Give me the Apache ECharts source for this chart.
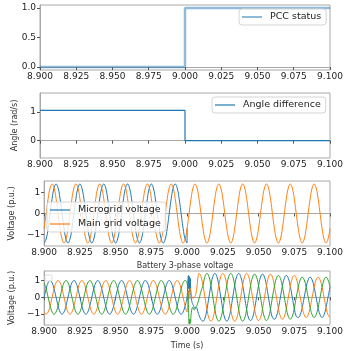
<!DOCTYPE html>
<html>
<head>
<meta charset="utf-8">
<script src="https://cdn.jsdelivr.net/npm/echarts@6/dist/echarts.min.js"></script>
<style>
  html, body { margin: 0; padding: 0; background: #fff; }
  #chart { width: 354px; height: 351px; }
</style>
</head>
<body>
<div id="chart"></div>
<script>
// step signals (top two panels)
var stepTime = [8.9, 9.0, 9.0, 9.1];
var pccStatus = [0, 0, 1, 1];
var angleDifference = [1.047, 1.047, 0, 0];

// waveforms are read every 1/720 s (30 deg of a 60 Hz cycle) starting at 8.9 s
var sampleStart = 8.9;
var sampleStep = 1 / 720;

var microgridVoltage = [
  -1.41, -1.22, -0.71, 0, 0.71, 1.22, 1.41, 1.22, 0.71, 0, -0.71, -1.22,
  -1.41, -1.22, -0.71, 0, 0.71, 1.22, 1.41, 1.22, 0.71, 0, -0.71, -1.22,
  -1.41, -1.22, -0.71, 0, 0.71, 1.22, 1.41, 1.22, 0.71, 0, -0.71, -1.22,
  -1.41, -1.22, -0.71, 0, 0.71, 1.22, 1.41, 1.22, 0.71, 0, -0.71, -1.22,
  -1.41, -1.22, -0.71, 0, 0.71, 1.22, 1.41, 1.22, 0.71, 0, -0.71, -1.22,
  -1.41, -1.22, -0.71, 0, 0.71, 1.22, 1.41, 1.22, 0.71, 0, -0.71, -1.22,
  -1.41
];
var microgridTail = [[9.0, -0.71]];

var mainGridVoltage = [
  -0.71, 0, 0.71, 1.22, 1.41, 1.22, 0.71, 0, -0.71, -1.22, -1.41, -1.22,
  -0.71, 0, 0.71, 1.22, 1.41, 1.22, 0.71, 0, -0.71, -1.22, -1.41, -1.22,
  -0.71, 0, 0.71, 1.22, 1.41, 1.22, 0.71, 0, -0.71, -1.22, -1.41, -1.22,
  -0.71, 0, 0.71, 1.22, 1.41, 1.22, 0.71, 0, -0.71, -1.22, -1.41, -1.22,
  -0.71, 0, 0.71, 1.22, 1.41, 1.22, 0.71, 0, -0.71, -1.22, -1.41, -1.22,
  -0.71, 0, 0.71, 1.22, 1.41, 1.22, 0.71, 0, -0.71, -1.22, -1.41, -1.22,
  -0.71, 0, 0.71, 1.22, 1.41, 1.22, 0.71, 0, -0.71, -1.22, -1.41, -1.22,
  -0.71, 0, 0.71, 1.22, 1.41, 1.22, 0.71, 0, -0.71, -1.22, -1.41, -1.22,
  -0.71, 0, 0.71, 1.22, 1.41, 1.22, 0.71, 0, -0.71, -1.22, -1.41, -1.22,
  -0.71, 0, 0.71, 1.22, 1.41, 1.22, 0.71, 0, -0.71, -1.22, -1.41, -1.22,
  -0.71, 0, 0.71, 1.22, 1.41, 1.22, 0.71, 0, -0.71, -1.22, -1.41, -1.22,
  -0.71, 0, 0.71, 1.22, 1.41, 1.22, 0.71, 0, -0.71, -1.22, -1.41, -1.22,
  -0.71
];

// battery 3-phase voltage, before the switch (8.900 .. 9.000)
var phaseAPre = [
  0, 0.5, 0.87, 1, 0.87, 0.5, 0, -0.5, -0.87, -1, -0.87, -0.5,
  0, 0.5, 0.87, 1, 0.87, 0.5, 0, -0.5, -0.87, -1, -0.87, -0.5,
  0, 0.5, 0.87, 1, 0.87, 0.5, 0, -0.5, -0.87, -1, -0.87, -0.5,
  0, 0.5, 0.87, 1, 0.87, 0.5, 0, -0.5, -0.87, -1, -0.87, -0.5,
  0, 0.5, 0.87, 1, 0.87, 0.5, 0, -0.5, -0.87, -1, -0.87, -0.5,
  0, 0.5, 0.87, 1, 0.87, 0.5, 0, -0.5, -0.87, -1, -0.87, -0.5,
  0
];
var phaseBPre = [
  -0.87, -1, -0.87, -0.5, 0, 0.5, 0.87, 1, 0.87, 0.5, 0, -0.5,
  -0.87, -1, -0.87, -0.5, 0, 0.5, 0.87, 1, 0.87, 0.5, 0, -0.5,
  -0.87, -1, -0.87, -0.5, 0, 0.5, 0.87, 1, 0.87, 0.5, 0, -0.5,
  -0.87, -1, -0.87, -0.5, 0, 0.5, 0.87, 1, 0.87, 0.5, 0, -0.5,
  -0.87, -1, -0.87, -0.5, 0, 0.5, 0.87, 1, 0.87, 0.5, 0, -0.5,
  -0.87, -1, -0.87, -0.5, 0, 0.5, 0.87, 1, 0.87, 0.5, 0, -0.5,
  -0.87
];
var phaseCPre = [
  0.87, 0.5, 0, -0.5, -0.87, -1, -0.87, -0.5, 0, 0.5, 0.87, 1,
  0.87, 0.5, 0, -0.5, -0.87, -1, -0.87, -0.5, 0, 0.5, 0.87, 1,
  0.87, 0.5, 0, -0.5, -0.87, -1, -0.87, -0.5, 0, 0.5, 0.87, 1,
  0.87, 0.5, 0, -0.5, -0.87, -1, -0.87, -0.5, 0, 0.5, 0.87, 1,
  0.87, 0.5, 0, -0.5, -0.87, -1, -0.87, -0.5, 0, 0.5, 0.87, 1,
  0.87, 0.5, 0, -0.5, -0.87, -1, -0.87, -0.5, 0, 0.5, 0.87, 1,
  0.87
];

// switching transient (9.000 .. 9.011)
var phaseATransient = [
  [9.0005, 0.9], [9.0009, 1.3], [9.0012, 0.5], [9.0015, 1.25], [9.0018, 0.35],
  [9.0022, 1.15], [9.0027, 0.1], [9.0035, -0.3], [9.0045, -0.5], [9.0055, -0.65],
  [9.0065, -0.6], [9.0075, -0.85], [9.009, -1.2], [9.0102, -1.38]
];
var phaseBTransient = [
  [9.0005, -0.4], [9.001, 0.4], [9.0013, -0.1], [9.0017, 0.3], [9.0022, 0.55],
  [9.003, 0.15], [9.004, -0.05], [9.005, 0.0], [9.006, 0.15], [9.007, 0.7],
  [9.0077, 1.25], [9.0083, 1.42], [9.0097, 1.24]
];
var phaseCTransient = [
  [9.0005, 0.4], [9.001, -0.6], [9.0015, -1.6], [9.0019, -1.3], [9.0023, -1.55],
  [9.003, -0.9], [9.004, -0.6], [9.005, -0.75], [9.006, -0.6], [9.007, -0.45],
  [9.0083, -0.1], [9.0097, 0.35]
];

// after the switch (9.0111 .. 9.100), sample index 80 onwards
var phaseAPost = [
  -1.42, -1.24, -0.71, 0, 0.71, 1.24, 1.42, 1.24, 0.71, 0, -0.71, -1.24,
  -1.42, -1.24, -0.71, 0, 0.71, 1.24, 1.42, 1.24, 0.71, 0, -0.71, -1.24,
  -1.38, -1.2, -0.69, 0, 0.69, 1.2, 1.38, 1.2, 0.69, 0, -0.69, -1.2,
  -1.3, -1.13, -0.65, 0, 0.65, 1.13, 1.3, 1.13, 0.65, 0, -0.65, -1.13,
  -1.2, -1.04, -0.6, 0, 0.6, 1.04, 1.2, 1.04, 0.6, 0, -0.6, -1.04,
  -1.2, -1.04, -0.6, 0, 0.6
];
var phaseBPost = [
  0.71, 0, -0.71, -1.24, -1.42, -1.24, -0.71, 0, 0.71, 1.24, 1.42, 1.24,
  0.71, 0, -0.71, -1.24, -1.42, -1.24, -0.71, 0, 0.71, 1.24, 1.42, 1.24,
  0.69, 0, -0.69, -1.2, -1.38, -1.2, -0.69, 0, 0.69, 1.2, 1.38, 1.2,
  0.65, 0, -0.65, -1.13, -1.3, -1.13, -0.65, 0, 0.65, 1.13, 1.3, 1.13,
  0.6, 0, -0.6, -1.04, -1.2, -1.04, -0.6, 0, 0.6, 1.04, 1.2, 1.04,
  0.6, 0, -0.6, -1.04, -1.2
];
var phaseCPost = [
  0.71, 1.24, 1.42, 1.24, 0.71, 0, -0.71, -1.24, -1.42, -1.24, -0.71, 0,
  0.71, 1.24, 1.42, 1.24, 0.71, 0, -0.71, -1.24, -1.42, -1.24, -0.71, 0,
  0.69, 1.2, 1.38, 1.2, 0.69, 0, -0.69, -1.2, -1.38, -1.2, -0.69, 0,
  0.65, 1.13, 1.3, 1.13, 0.65, 0, -0.65, -1.13, -1.3, -1.13, -0.65, 0,
  0.6, 1.04, 1.2, 1.04, 0.6, 0, -0.6, -1.04, -1.2, -1.04, -0.6, 0,
  0.6, 1.04, 1.2, 1.04, 0.6
];

var timeTicks = [8.9, 9.1, 0.025];

var FONT = "DejaVu Sans";
var SPINE = "#a8a8a8";
var TEXT = "#222";

function onGrid(values, firstIndex) {
  return values.map(function (v, i) {
    return [+(sampleStart + (firstIndex + i) * sampleStep).toFixed(5), v];
  });
}

function pairs(xs, ys) {
  return xs.map(function (x, i) { return [x, ys[i]]; });
}

function minusSign(s) {
  return String(s).replace("-", "\u2212");
}

function makeX(idx, extra) {
  var ax = {
    type: "value",
    gridIndex: idx,
    min: timeTicks[0],
    max: timeTicks[1],
    interval: timeTicks[2],
    axisLine: { show: true, lineStyle: { color: SPINE, width: 1 } },
    axisTick: { show: true, length: 3, lineStyle: { color: "#555" } },
    axisLabel: {
      margin: 2,
      color: TEXT,
      fontFamily: FONT,
      fontSize: 9,
      formatter: function (v) { return v.toFixed(3); }
    },
    splitLine: { show: false }
  };
  return Object.assign(ax, extra || {});
}

function makeY(idx, min, max, ticks, digits, name, gap) {
  return {
    type: "value",
    gridIndex: idx,
    min: min,
    max: max,
    name: name || "",
    nameLocation: "middle",
    nameRotate: 90,
    nameGap: gap || 20,
    nameTextStyle: { color: "#333", fontFamily: FONT, fontSize: 8 },
    axisLine: { show: true, lineStyle: { color: SPINE, width: 1 } },
    axisTick: { show: true, length: 3, customValues: ticks, lineStyle: { color: "#555" } },
    axisLabel: {
      margin: 4,
      color: TEXT,
      fontFamily: FONT,
      fontSize: 9,
      customValues: ticks,
      formatter: function (v) { return minusSign(v.toFixed(digits)); }
    },
    splitLine: { show: false }
  };
}

function lineSeries(name, idx, color, width, data, smooth) {
  return {
    name: name,
    type: "line",
    xAxisIndex: idx,
    yAxisIndex: idx,
    symbol: "none",
    smooth: smooth ? 0.5 : false,
    animation: false,
    lineStyle: { color: color, width: width },
    itemStyle: { color: color },
    data: data
  };
}

function legendBox(left, top, names, lineWidth) {
  return {
    left: left,
    top: top,
    orient: "vertical",
    data: names,
    icon: "rect",
    itemWidth: 20,
    itemHeight: lineWidth,
    itemGap: 4,
    padding: [3, 5, 3, 3],
    backgroundColor: "rgba(255,255,255,0.8)",
    borderColor: "#d4d4d4",
    borderWidth: 1,
    borderRadius: 3,
    selectedMode: false,
    textStyle: { color: TEXT, fontFamily: FONT, fontSize: 9.5, padding: [0, 0, 0, 3] }
  };
}

var BLUE = "#1f77b4", ORANGE = "#ff7f0e", GREEN = "#2ca02c";

var myChart = echarts.init(document.getElementById("chart"), null, { renderer: "canvas" });

var option = {
  backgroundColor: "#fff",
  animation: false,
  textStyle: { fontFamily: FONT },
  grid: [
    { left: 40, right: 24, top: 5, height: 65, show: true, borderColor: SPINE, borderWidth: 1 },
    { left: 40, right: 24, top: 93, height: 65, show: true, borderColor: SPINE, borderWidth: 1 },
    { left: 40, right: 24, top: 181, height: 65, show: true, borderColor: SPINE, borderWidth: 1 },
    { left: 40, right: 24, top: 271, height: 63, show: true, borderColor: SPINE, borderWidth: 1 }
  ],
  xAxis: [
    makeX(0),
    makeX(1),
    makeX(2),
    makeX(3, {
      name: "Time (s)",
      nameLocation: "middle",
      nameGap: 17,
      nameTextStyle: { color: "#333", fontFamily: FONT, fontSize: 8, verticalAlign: "top" }
    })
  ],
  yAxis: [
    makeY(0, -0.05, 1.05, [0, 0.5, 1], 1),
    makeY(1, -0.6, 1.65, [0, 1], 0, "Angle (rad/s)", 12),
    makeY(2, -1.556, 1.556, [-1, 0, 1], 0, "Voltage (p.u.)", 20),
    makeY(3, -1.65, 1.57, [-1, 0, 1], 0, "Voltage (p.u.)", 20)
  ],
  legend: [
    legendBox(239, 9, ["PCC status"], 2),
    legendBox(212, 97, ["Angle difference"], 1.2),
    legendBox(47, 202, ["Microgrid voltage", "Main grid voltage"], 1.2)
  ],
  graphic: [
    {
      type: "text",
      x: 185,
      y: 266,
      style: {
        text: "Battery 3-phase voltage",
        fontFamily: FONT,
        fontSize: 8,
        fill: "#333",
        textAlign: "center",
        textVerticalAlign: "middle"
      }
    },
    {
      type: "rect",
      shape: { x: 45, y: 275, width: 7, height: 6, r: 1 },
      style: { fill: "rgba(255,255,255,0.8)", stroke: "#dddddd", lineWidth: 1 },
      z: 10
    }
  ],
  series: [
    lineSeries("PCC status", 0, "rgba(31,119,180,0.5)", 2.5, pairs(stepTime, pccStatus)),
    lineSeries("Angle difference", 1, BLUE, 1.2, pairs(stepTime, angleDifference)),
    lineSeries("Microgrid voltage", 2, BLUE, 1, onGrid(microgridVoltage, 0).concat(microgridTail), true),
    lineSeries("Main grid voltage", 2, ORANGE, 1, onGrid(mainGridVoltage, 0), true),
    lineSeries("Phase a", 3, BLUE, 1,
      onGrid(phaseAPre, 0).concat(phaseATransient, onGrid(phaseAPost, 80)), true),
    lineSeries("Phase b", 3, ORANGE, 1,
      onGrid(phaseBPre, 0).concat(phaseBTransient, onGrid(phaseBPost, 80)), true),
    lineSeries("Phase c", 3, GREEN, 1,
      onGrid(phaseCPre, 0).concat(phaseCTransient, onGrid(phaseCPost, 80)), true)
  ]
};

myChart.setOption(option);
</script>
</body>
</html>
